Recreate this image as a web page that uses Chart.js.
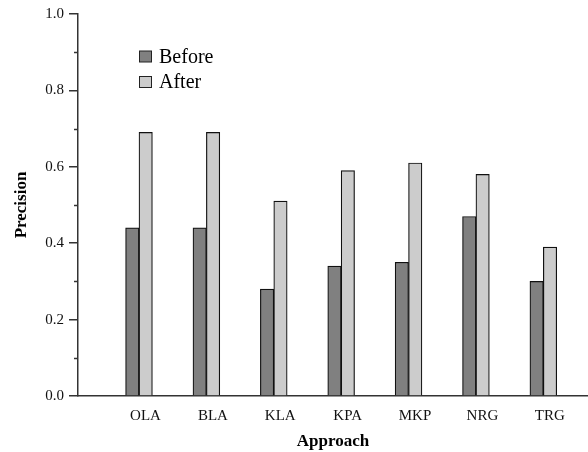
<!DOCTYPE html>
<html>
<head>
<meta charset="utf-8">
<script src="https://cdn.jsdelivr.net/npm/chart.js@4"></script>
<style>
  body { margin: 0; background: #fff; }
  canvas { display: block; }
</style>
</head>
<body>
<canvas id="chart" width="588" height="452"></canvas>
<script>
// data
const approaches = ['OLA', 'BLA', 'KLA', 'KPA', 'MKP', 'NRG', 'TRG'];
const beforeVals = [0.44, 0.44, 0.28, 0.34, 0.35, 0.47, 0.30];
const afterVals = [0.69, 0.69, 0.51, 0.59, 0.61, 0.58, 0.39];
const yTickVals = [0.0, 0.2, 0.4, 0.6, 0.8, 1.0];

const serif = '"Liberation Serif", "Times New Roman", serif';
const axisColor = '#333';

// minor ticks halfway between the major ones, pointing outward
const minorTicks = {
    id: 'minorTicks',
    afterDraw(chart) {
        const s = chart.scales.y;
        const ctx = chart.ctx;
        ctx.save();
        ctx.strokeStyle = axisColor;
        ctx.lineWidth = 1.5;
        for (let i = 0; i < s.ticks.length - 1; i++) {
            const v = (s.ticks[i].value + s.ticks[i + 1].value) / 2;
            const py = Math.round(s.getPixelForValue(v)) + 0.5;
            ctx.beginPath();
            ctx.moveTo(s.right - 4, py);
            ctx.lineTo(s.right, py);
            ctx.stroke();
        }
        ctx.restore();
    }
};

// legend stacked inside the plot, top left
const boxLegend = {
    id: 'boxLegend',
    afterDraw(chart) {
        const ctx = chart.ctx;
        ctx.save();
        ctx.font = '20px ' + serif;
        ctx.textBaseline = 'middle';
        chart.data.datasets.forEach((ds, i) => {
            const y = 56.5 + i * 25.5;
            ctx.fillStyle = ds.backgroundColor;
            ctx.fillRect(139.5, y - 5.5, 12, 11);
            ctx.strokeStyle = '#222';
            ctx.lineWidth = 1;
            ctx.strokeRect(139.5, y - 5.5, 12, 11);
            ctx.fillStyle = '#000';
            ctx.fillText(ds.label, 159, y + 1);
        });
        ctx.restore();
    }
};

new Chart(document.getElementById('chart'), {
    type: 'bar',
    data: {
        datasets: [
            {
                label: 'Before',
                data: beforeVals.map((v, i) => ({ x: i, y: v })),
                backgroundColor: '#808080',
                borderColor: '#111',
                borderWidth: 1.2,
            },
            {
                label: 'After',
                data: afterVals.map((v, i) => ({ x: i, y: v })),
                backgroundColor: '#cccccc',
                borderColor: '#111',
                borderWidth: 1.2,
            },
        ],
    },
    options: {
        responsive: false,
        animation: false,
        barThickness: 13.4,
        layout: { padding: { top: 12, right: 0, bottom: 0, left: 0 } },
        plugins: {
            legend: { display: false },
            tooltip: { enabled: false },
        },
        scales: {
            x: {
                type: 'linear',
                offset: false,
                min: -0.905,
                max: 6.663,
                afterBuildTicks: (s) => { s.ticks = approaches.map((_, i) => ({ value: i })); },
                afterFit: (s) => { s.height = 56; },
                grid: { display: false, drawTicks: false },
                border: { display: true, color: axisColor, width: 1.5 },
                ticks: {
                    callback: (v) => approaches[v],
                    labelOffset: 6.5,
                    padding: 11,
                    maxRotation: 0,
                    autoSkip: false,
                    color: '#111',
                    font: { family: serif, size: 15 },
                },
                title: {
                    display: true,
                    text: 'Approach',
                    color: '#000',
                    font: { family: serif, size: 17, weight: 'bold' },
                    padding: { top: 5, bottom: 0 },
                },
            },
            y: {
                min: 0,
                max: 1,
                afterBuildTicks: (s) => { s.ticks = yTickVals.map(v => ({ value: v })); },
                afterFit: (s) => { s.width = 78; },
                grid: { drawOnChartArea: false, tickLength: 9, tickColor: axisColor, lineWidth: 1.5 },
                border: { display: true, color: axisColor, width: 1.5 },
                ticks: {
                    callback: (v) => v.toFixed(1),
                    padding: 5,
                    color: '#111',
                    font: { family: serif, size: 15 },
                },
                title: {
                    display: true,
                    text: 'Precision',
                    color: '#000',
                    font: { family: serif, size: 17, weight: 'bold' },
                    padding: { top: 11, bottom: 0 },
                },
            },
        },
    },
    plugins: [minorTicks, boxLegend],
});
</script>
</body>
</html>
